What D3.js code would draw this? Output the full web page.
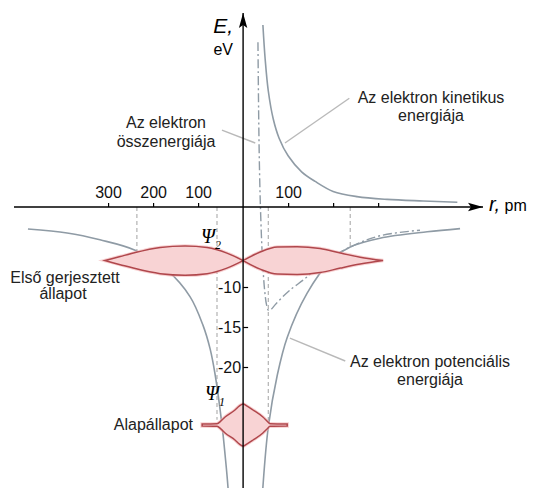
<!DOCTYPE html>
<html lang="hu">
<head>
<meta charset="utf-8">
<title>Az elektron energiái</title>
<script src="https://cdn.jsdelivr.net/npm/d3@7"></script>
<style>
	body { margin: 0; background: #fff; }
	svg { display: block; font-family: "Liberation Sans", Arial, sans-serif; }
	.curve { fill: none; stroke: #8f9ba5; stroke-width: 1.6; }
	.total { fill: none; stroke: #8f9ba5; stroke-width: 1.4; stroke-dasharray: 9 3 2 3; }
	.turn { stroke: #b2b2b2; stroke-width: 1.2; stroke-dasharray: 4 3; }
	.leader { stroke: #b9b9b9; stroke-width: 1.4; }
	.psi-glow { fill: none; stroke: #f3b4b6; stroke-width: 3.5; stroke-opacity: 0.6; }
	.psi { fill: #f8d3d4; stroke: #b0474c; stroke-width: 1.5; }
	.note { font-size: 16px; fill: #222; text-anchor: middle; }
	.axis text { font-size: 16px; fill: #111; }
	.axis line { stroke: #000; stroke-width: 1.2; }
</style>
</head>
<body>
<svg id="chart" width="540" height="488"></svg>
<script>
	// r in pm, E in eV
	var potLeftR  = [-478, -391, -318, -240, -169, -118, -89, -73, -62, -47, -40, -33, -28];
	var potLeftE  = [-2.75, -3.25, -4.1, -5.4, -7.9, -11.2, -14.8, -17.8, -21, -27.2, -31, -35.5, -42];
	var potRightR = [38, 44, 56, 76, 98, 142, 193, 238, 304, 409, 482];
	var potRightE = [-41, -35, -27.5, -21, -16.3, -10.8, -6.8, -5.0, -3.9, -3.1, -2.7];

	var kinR = [44, 49, 56, 67, 80, 100, 130, 160, 200, 253, 320, 400, 476];
	var kinE = [22.75, 18.5, 14.5, 11, 8.6, 6.4, 4.4, 3.2, 1.95, 1.3, 0.95, 0.75, 0.6];

	var totR = [33, 34.5, 36, 38, 41, 44, 48, 52, 56, 62, 70, 85, 104, 142, 178, 238, 304, 393];
	var totE = [20.6, 12, 6, 1, -4, -7.5, -10.5, -12.2, -12.9, -12.8, -12.3, -11.4, -10.4, -8.75, -6.9, -5.0, -3.6, -2.9];

	// wave functions: level energy and amplitude (arbitrary units) along r
	var E1 = -27.25, E2 = -6.7;
	var psi2LeftR  = [-307, -273, -244, -184, -129, -80, -36, 0];
	var psi2LeftA  = [0, 0.27, 0.5, 0.87, 0.97, 0.87, 0.5, 0];
	var psi2RightR = [0, 38, 76, 120, 171, 216, 260, 311];
	var psi2RightA = [0, 0.57, 0.9, 0.93, 0.8, 0.5, 0.23, 0];
	var psi1R = [-91, -58, -49, -40, -18, -8, 0, 8, 22, 44, 53, 60, 98];
	var psi1A = [0.06, 0.08, 0.27, 0.53, 1.0, 1.27, 1.4, 1.27, 1.0, 0.53, 0.27, 0.08, 0.06];

	// classical turning points (dashed)
	var turnR = [-236, -58, 56, 238];
	var turnE = [-5.4, -26.6, -27, -4.9];

	var xTicks = [-300, -200, -100, 100, 200, 300];
	var xLabeled = [-300, -200, -100, 100];
	var yTicks = [-10, -15, -20];

	var svg = d3.select("#chart");

	var x = d3.scaleLinear().domain([-509, 533]).range([14, 483]);
	var y = d3.scaleLinear().domain([25, -36]).range([7, 495]);
	var amp = d3.scaleLinear().domain([0, 1]).range([0, 15]);

	function pts(rs, es) {
		return rs.map(function(r, i) { return [r, es[i]]; });
	}

	var line = d3.line()
		.x(function(d) { return x(d[0]); })
		.y(function(d) { return y(d[1]); })
		.curve(d3.curveCatmullRom.alpha(0.5));

	// arrow marker
	svg.append("defs").append("marker")
		.attr("id", "arrow")
		.attr("markerUnits", "userSpaceOnUse")
		.attr("viewBox", "-15 -5 16 10")
		.attr("refX", 0).attr("refY", 0)
		.attr("markerWidth", 16).attr("markerHeight", 10)
		.attr("orient", "auto")
		.append("path")
		.attr("d", "M0,0 L-15,-4.2 L-12,0 L-15,4.2 Z")
		.attr("fill", "#000");

	// dashed turning point lines
	svg.selectAll(".turn")
		.data(turnR)
		.enter()
		.append("line")
		.attr("class", "turn")
		.attr("x1", function(d) { return x(d); })
		.attr("x2", function(d) { return x(d); })
		.attr("y1", y(0))
		.attr("y2", function(d, i) { return y(turnE[i]); });

	// energy curves
	svg.append("path").attr("class", "curve").attr("d", line(pts(potLeftR, potLeftE)));
	svg.append("path").attr("class", "curve").attr("d", line(pts(potRightR, potRightE)));
	svg.append("path").attr("class", "curve").attr("d", line(pts(kinR, kinE)));
	svg.append("path").attr("class", "total").attr("d", line(pts(totR, totE)));

	// leader lines (data coords)
	var leaders = [
		[[-47, 9.6], [27, 8]],
		[[236, 13.6], [93, 8]],
		[[104, -16.4], [227, -19.25]]
	];
	svg.selectAll(".leader")
		.data(leaders)
		.enter()
		.append("line")
		.attr("class", "leader")
		.attr("x1", function(d) { return x(d[0][0]); })
		.attr("y1", function(d) { return y(d[0][1]); })
		.attr("x2", function(d) { return x(d[1][0]); })
		.attr("y2", function(d) { return y(d[1][1]); });

	// wave functions
	function lobe(rs, as, E) {
		return d3.area()
			.x(function(d) { return x(d[0]); })
			.y0(function(d) { return y(E) - amp(d[1]); })
			.y1(function(d) { return y(E) + amp(d[1]); })
			.curve(d3.curveMonotoneX)(pts(rs, as));
	}
	var lobes = [
		lobe(psi2LeftR, psi2LeftA, E2),
		lobe(psi2RightR, psi2RightA, E2),
		lobe(psi1R, psi1A, E1)
	];
	svg.selectAll(".psi-glow").data(lobes).enter()
		.append("path").attr("class", "psi-glow").attr("d", function(d) { return d; });
	svg.selectAll(".psi").data(lobes).enter()
		.append("path").attr("class", "psi").attr("d", function(d) { return d; });

	// axes
	svg.append("line")
		.attr("x1", x(-509)).attr("x2", 483)
		.attr("y1", y(0)).attr("y2", y(0))
		.attr("stroke", "#000").attr("stroke-width", 1.4)
		.attr("marker-end", "url(#arrow)");
	svg.append("line")
		.attr("x1", x(0)).attr("x2", x(0))
		.attr("y1", 488).attr("y2", 13)
		.attr("stroke", "#000").attr("stroke-width", 1.4)
		.attr("marker-end", "url(#arrow)");

	svg.append("g")
		.attr("class", "axis")
		.attr("transform", "translate(0," + y(0) + ")")
		.call(d3.axisTop(x).tickValues(xTicks).tickSize(4).tickPadding(5)
			.tickFormat(function(d) { return xLabeled.indexOf(d) >= 0 ? Math.abs(d) : ""; }))
		.call(function(g) { g.select(".domain").remove(); });

	svg.append("g")
		.attr("class", "axis")
		.attr("transform", "translate(" + x(0) + ",0)")
		.call(d3.axisRight(y).tickValues(yTicks).tickSize(5)
			.tickFormat(function(d) { return String(d); }))
		.call(function(g) {
			g.select(".domain").remove();
			g.selectAll("text").attr("x", -2).attr("text-anchor", "end");
		});

	// axis titles
	svg.append("text").attr("x", 233).attr("y", 33).attr("text-anchor", "end")
		.style("font-size", "21px").style("font-style", "italic").text("E,");
	svg.append("text").attr("x", 233).attr("y", 55).attr("text-anchor", "end")
		.style("font-size", "16px").text("eV");
	var rt = svg.append("text").attr("x", 489).attr("y", 211);
	rt.append("tspan").style("font-size", "20px").style("font-style", "italic").text("r,");
	rt.append("tspan").style("font-size", "16px").text(" pm");

	// psi labels (symbol with subscript in one text)
	var psiLabels = [
		{x: 201, y: 243, sub: "2"},
		{x: 205, y: 400, sub: "1"}
	];
	psiLabels.forEach(function(p) {
		var t = svg.append("text").attr("x", p.x).attr("y", p.y)
			.style("font-family", "'Liberation Serif', serif")
			.style("font-style", "italic").style("font-size", "20px");
		t.append("tspan").text("\u03A8");
		t.append("tspan").attr("dy", 6)
			.style("font-size", "12px").text(p.sub);
	});

	// annotations
	var notes = [
		{x: 166, y: 128, t: "Az elektron"},
		{x: 166, y: 147, t: "összenergiája"},
		{x: 431, y: 103, t: "Az elektron kinetikus"},
		{x: 431, y: 121, t: "energiája"},
		{x: 65, y: 283, t: "Első gerjesztett"},
		{x: 63, y: 299, t: "állapot"},
		{x: 430, y: 367, t: "Az elektron potenciális"},
		{x: 430, y: 385, t: "energiája"},
		{x: 193, y: 430, t: "Alapállapot", a: "end"}
	];
	svg.selectAll(".note")
		.data(notes)
		.enter()
		.append("text")
		.attr("class", "note")
		.attr("x", function(d) { return d.x; })
		.attr("y", function(d) { return d.y; })
		.style("text-anchor", function(d) { return d.a || "middle"; })
		.text(function(d) { return d.t; });
</script>
</body>
</html>
